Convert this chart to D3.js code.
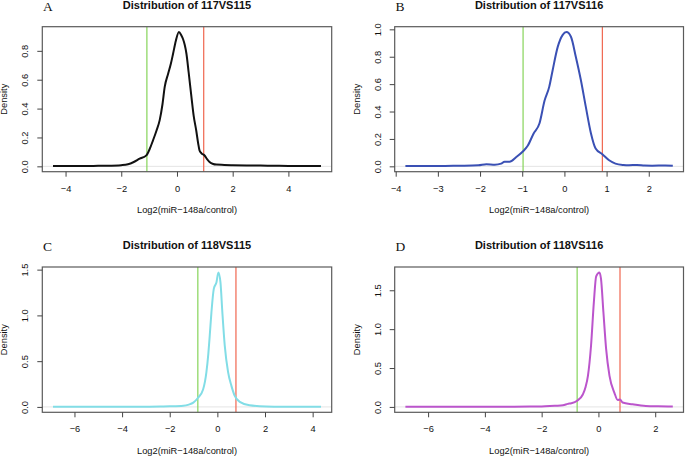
<!DOCTYPE html>
<html>
<head>
<meta charset="utf-8">
<script src="https://cdn.jsdelivr.net/npm/d3@7"></script>
<style>
  html, body { margin: 0; padding: 0; background: #fff; }
  svg { display: block; }
  text { font-family: "Liberation Sans", Arial, sans-serif; fill: #111; }
</style>
</head>
<body>
<svg id="chart" width="685" height="456"></svg>
<script>
// ---------- data ----------
const panelLetters = ["A", "B", "C", "D"];
const panelTitles = ["Distribution of 117VS115", "Distribution of 117VS116",
                     "Distribution of 118VS115", "Distribution of 118VS116"];
const xAxisTitle = "Log2(miR\u2212148a/control)";
const yAxisTitle = "Density";

// density curves: [log2 ratio, density]
const density117vs115 = [
  [-4.45,0.002],[-4,0.002],[-3.5,0.002],[-3,0.003],[-2.5,0.004],[-2,0.008],[-1.76,0.014],
  [-1.55,0.03],[-1.34,0.053],[-1.1,0.076],[-0.98,0.12],[-0.86,0.18],[-0.74,0.245],[-0.62,0.32],
  [-0.52,0.43],[-0.44,0.55],[-0.32,0.64],[-0.22,0.71],[-0.14,0.78],[-0.04,0.87],[0.07,0.93],
  [0.15,0.91],[0.22,0.88],[0.28,0.84],[0.34,0.78],[0.42,0.65],[0.52,0.48],[0.6,0.35],
  [0.69,0.25],[0.76,0.16],[0.81,0.11],[0.88,0.09],[0.99,0.075],[1.08,0.05],[1.17,0.03],
  [1.3,0.016],[1.41,0.012],[1.7,0.01],[2,0.008],[2.5,0.006],[3,0.005],[3.5,0.004],
  [4,0.003],[4.5,0.003],[5.17,0.002]
];
const density117vs116 = [
  [-3.77,0.002],[-3.3,0.002],[-2.83,0.003],[-2.4,0.004],[-2.04,0.007],[-1.85,0.015],
  [-1.65,0.012],[-1.5,0.02],[-1.42,0.034],[-1.3,0.034],[-1.14,0.068],[-0.98,0.11],
  [-0.87,0.15],[-0.73,0.24],[-0.59,0.315],[-0.47,0.48],[-0.36,0.58],[-0.28,0.70],
  [-0.16,0.87],[-0.04,0.96],[0.05,0.98],[0.155,0.946],[0.27,0.80],[0.39,0.63],[0.51,0.43],
  [0.63,0.24],[0.74,0.13],[0.9,0.088],[1.06,0.044],[1.21,0.02],[1.4,0.01],[1.53,0.008],
  [1.72,0.01],[1.9,0.006],[2.08,0.005],[2.39,0.006],[2.57,0.004]
];
const density118vs115 = [
  [-6.9,0.002],[-5,0.002],[-4,0.002],[-3,0.003],[-2.4,0.004],[-2,0.006],[-1.43,0.012],
  [-1.2,0.025],[-1.01,0.047],[-0.81,0.10],[-0.6,0.19],[-0.46,0.38],[-0.38,0.58],[-0.32,0.78],
  [-0.25,1.03],[-0.15,1.29],[-0.04,1.36],[0.045,1.47],[0.13,1.36],[0.21,1.03],[0.31,0.67],
  [0.45,0.38],[0.59,0.23],[0.73,0.12],[0.94,0.055],[1.35,0.018],[2.05,0.005],[2.6,0.003],
  [3.5,0.002],[4.35,0.002]
];
const density118vs116 = [
  [-6.8,0.002],[-5,0.002],[-4,0.002],[-3,0.003],[-2.42,0.004],[-2,0.006],[-1.54,0.015],
  [-1.25,0.02],[-1.08,0.039],[-0.96,0.047],[-0.75,0.08],[-0.55,0.16],[-0.45,0.26],
  [-0.37,0.40],[-0.26,0.79],[-0.16,1.35],[-0.08,1.68],[0.035,1.73],[0.09,1.65],[0.175,1.22],
  [0.27,0.75],[0.39,0.40],[0.56,0.185],[0.68,0.09],[0.76,0.095],[0.85,0.056],[1.2,0.034],
  [1.67,0.012],[2.1,0.007],[2.62,0.005]
];
const densities = [density117vs115, density117vs116, density118vs115, density118vs116];

// cut-off lines (down / up)
const lowerCutoffs = [-1.08, -0.98, -0.82, -0.75];
const upperCutoffs = [0.96, 0.90, 0.78, 0.76];

// tick values
const xTicksA = [-4, -2, 0, 2, 4];
const xTicksB = [-4, -3, -2, -1, 0, 1, 2];
const xTicksC = [-6, -4, -2, 0, 2, 4];
const xTicksD = [-6, -4, -2, 0, 2];
const yTicksA = [0, 0.2, 0.4, 0.6, 0.8];
const yTicksB = [0, 0.2, 0.4, 0.6, 0.8, 1.0];
const yTicksC = [0, 0.5, 1.0, 1.5];
const yTicksD = [0, 0.5, 1.0, 1.5];
const xTicks = [xTicksA, xTicksB, xTicksC, xTicksD];
const yTicks = [yTicksA, yTicksB, yTicksC, yTicksD];

// ---------- styles & layout ----------
const curveColors = ["#111111", "#3a50b4", "#82dde6", "#bb55cc"];
const lowerColor = "#86d45a";
const upperColor = "#f0664f";

const boxes = [
  {l: 42.3, r: 331.7, t: 26.7, b: 171.7},
  {l: 394.7, r: 683.5, t: 26.7, b: 171.7},
  {l: 42.3, r: 331.7, t: 267, b: 412.3},
  {l: 394.7, r: 683.5, t: 267, b: 412.3}
];

const svg = d3.select("#chart");
const fmtX = d => (d < 0 ? "\u2212" + Math.abs(d) : String(d));
const fmtY = d3.format(".1f");

boxes.forEach((bx, i) => {
  const data = densities[i];
  const [xmin, xmax] = d3.extent(data, d => d[0]);
  const xpad = (xmax - xmin) * 0.04;
  const ymax = d3.max(data, d => d[1]);
  const ypad = ymax * 0.04;

  const x = d3.scaleLinear().domain([xmin - xpad, xmax + xpad]).range([bx.l, bx.r]);
  const y = d3.scaleLinear().domain([-ypad, ymax + ypad]).range([bx.b, bx.t]);

  const g = svg.append("g");

  // zero line
  g.append("line")
    .attr("x1", bx.l).attr("x2", bx.r)
    .attr("y1", y(0)).attr("y2", y(0))
    .attr("stroke", "#e4e4e4").attr("stroke-width", 1);

  // cutoff lines
  g.append("line")
    .attr("x1", x(lowerCutoffs[i])).attr("x2", x(lowerCutoffs[i]))
    .attr("y1", bx.t).attr("y2", bx.b)
    .attr("stroke", lowerColor).attr("stroke-width", 1.2);
  g.append("line")
    .attr("x1", x(upperCutoffs[i])).attr("x2", x(upperCutoffs[i]))
    .attr("y1", bx.t).attr("y2", bx.b)
    .attr("stroke", upperColor).attr("stroke-width", 1.2);

  // density curve
  const line = d3.line().x(d => x(d[0])).y(d => y(d[1])).curve(d3.curveMonotoneX);
  g.append("path")
    .datum(data)
    .attr("d", line)
    .attr("fill", "none")
    .attr("stroke", curveColors[i])
    .attr("stroke-width", 2)
    .attr("stroke-linejoin", "round");

  // box
  g.append("rect")
    .attr("x", bx.l).attr("y", bx.t)
    .attr("width", bx.r - bx.l).attr("height", bx.b - bx.t)
    .attr("fill", "none").attr("stroke", "#5a5a5a").attr("stroke-width", 1.2);

  // x axis
  const xa = g.append("g")
    .attr("transform", `translate(0,${bx.b})`)
    .call(d3.axisBottom(x).tickValues(xTicks[i]).tickFormat(fmtX).tickSize(5).tickSizeOuter(0));
  xa.select(".domain").remove();
  xa.selectAll(".tick line").attr("stroke", "#444");
  xa.selectAll(".tick text")
    .attr("y", 20).attr("dy", 0)
    .style("font-size", "9.3px")
    .style("font-family", '"Liberation Sans", Arial, sans-serif')
    .attr("fill", "#111");

  // y axis
  const ya = g.append("g")
    .attr("transform", `translate(${bx.l},0)`)
    .call(d3.axisLeft(y).tickValues(yTicks[i]).tickFormat(fmtY).tickSize(5).tickSizeOuter(0));
  ya.select(".domain").remove();
  ya.selectAll(".tick line").attr("stroke", "#444");
  ya.selectAll(".tick text")
    .attr("x", 0).attr("dy", 0)
    .attr("text-anchor", "middle")
    .attr("transform", "translate(-14,0) rotate(-90)")
    .style("font-size", "9.3px")
    .style("font-family", '"Liberation Sans", Arial, sans-serif')
    .attr("fill", "#111");

  const cx = (bx.l + bx.r) / 2;
  const cy = (bx.t + bx.b) / 2;

  // axis titles
  g.append("text")
    .attr("x", cx).attr("y", bx.b + 41.5)
    .attr("text-anchor", "middle")
    .style("font-size", "9.3px")
    .text(xAxisTitle);
  g.append("text")
    .attr("transform", `translate(${bx.l - 35},${cy}) rotate(-90)`)
    .attr("text-anchor", "middle")
    .style("font-size", "9.3px")
    .text(yAxisTitle);

  // title
  g.append("text")
    .attr("x", cx).attr("y", bx.t - 18.2)
    .attr("text-anchor", "middle")
    .style("font-size", "11px")
    .style("font-weight", "bold")
    .text(panelTitles[i]);

  // panel letter
  g.append("text")
    .attr("x", bx.l + 0.8).attr("y", bx.t - 16.2)
    .style("font-family", '"Liberation Serif", "Times New Roman", serif')
    .style("font-size", "13.5px")
    .attr("fill", "#333")
    .text(panelLetters[i]);
});
</script>
</body>
</html>
